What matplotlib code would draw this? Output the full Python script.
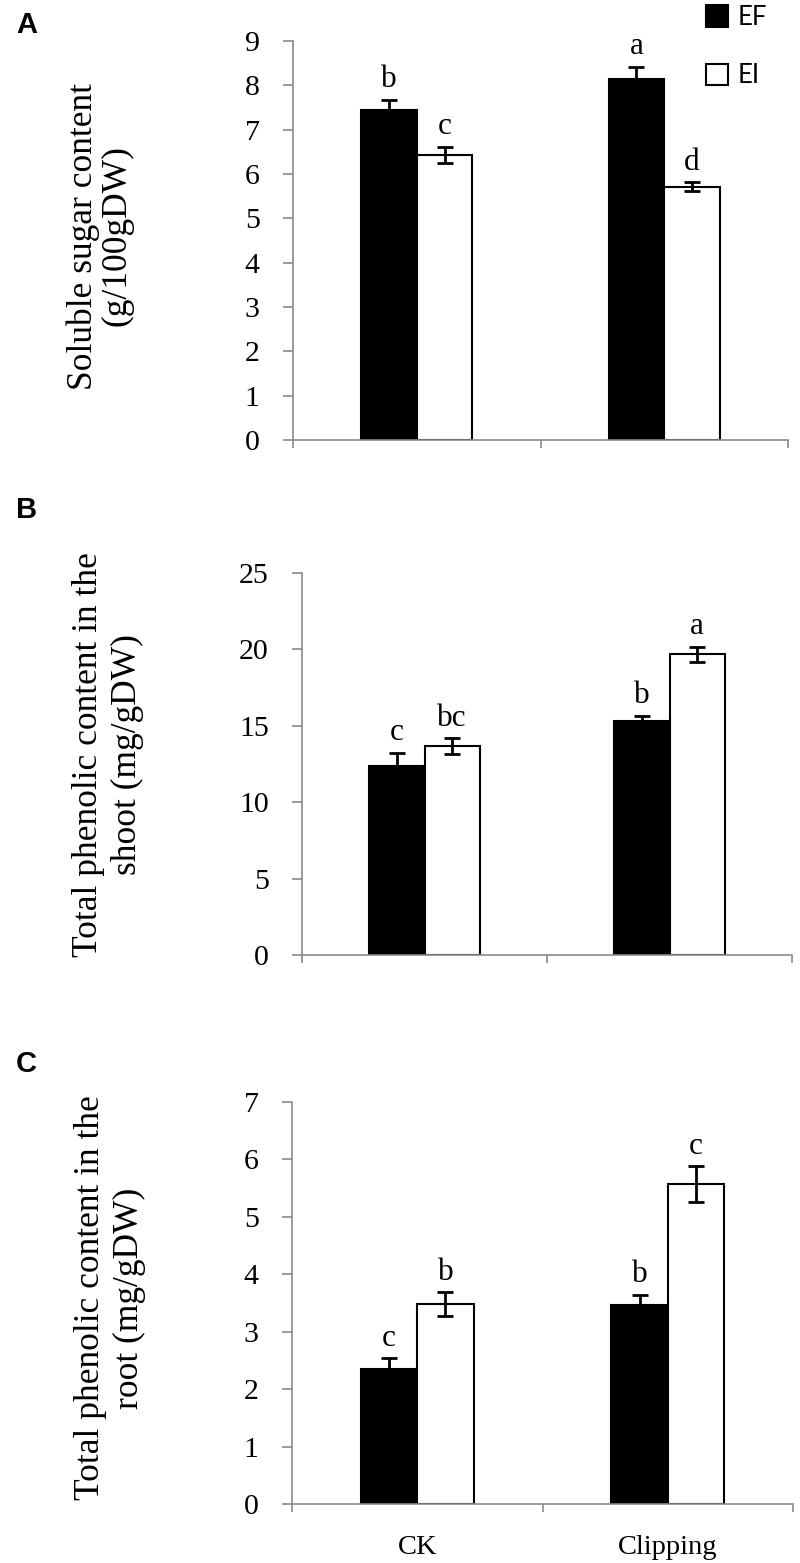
import matplotlib.pyplot as plt
from matplotlib.ticker import FixedLocator, NullFormatter, FixedFormatter

# ─── DATA ─────────────────────────────────────────
groups = ['CK', 'Clipping']
series = ['EF', 'EI']

sugar_ef = [7.44, 8.14]
sugar_ef_err = [0.23, 0.28]
sugar_ei = [6.43, 5.71]
sugar_ei_err = [0.18, 0.10]
sugar_ef_sig = ['b', 'a']
sugar_ei_sig = ['c', 'd']

shoot_ef = [12.37, 15.33]
shoot_ef_err = [0.85, 0.33]
shoot_ei = [13.68, 19.68]
shoot_ei_err = [0.52, 0.50]
shoot_ef_sig = ['c', 'b']
shoot_ei_sig = ['bc', 'a']

root_ef = [2.35, 3.47]
root_ef_err = [0.19, 0.17]
root_ei = [3.48, 5.57]
root_ei_err = [0.21, 0.31]
root_ef_sig = ['c', 'b']
root_ei_sig = ['b', 'c']

# ─── STYLE ─────────────────────────────────────────
W, H = 800, 1563
SERIF = 'Liberation Serif'
AXIS_GREY = '#8a8a8a'
BAR_W = 0.225

fig = plt.figure(figsize=(W / 100, H / 100), dpi=100, facecolor='white')


def px_rect(left, right, top, bottom):
    return [left / W, 1 - bottom / H, (right - left) / W, (bottom - top) / H]


def draw_panel(ax, ef, ef_err, ei, ei_err, ef_sig, ei_sig, ymax, ystep, show_x):
    x = list(range(len(groups)))
    x_ef = [i - BAR_W / 2 for i in x]
    x_ei = [i + BAR_W / 2 for i in x]

    err_kw = dict(ecolor='black', elinewidth=2, capsize=5.5, capthick=2)
    b1 = ax.bar(x_ef, ef, BAR_W, color='black', edgecolor='black',
                linewidth=1.5, yerr=ef_err, error_kw=err_kw, label=series[0])
    b2 = ax.bar(x_ei, ei, BAR_W, color='white', edgecolor='black',
                linewidth=1.5, yerr=ei_err, error_kw=err_kw, label=series[1])

    # significance letters
    for xs, vals, errs, sigs in [(x_ef, ef, ef_err, ef_sig), (x_ei, ei, ei_err, ei_sig)]:
        for xi, v, e, s in zip(xs, vals, errs, sigs):
            ax.annotate(s, (xi, v + e), xytext=(0, 9), textcoords='offset points',
                        ha='center', va='baseline', fontsize=22.5, family=SERIF,
                        annotation_clip=False)

    ax.set_xlim(-0.5, len(groups) - 0.5)
    ax.set_ylim(0, ymax)

    for side in ['top', 'right']:
        ax.spines[side].set_visible(False)
    for side in ['left', 'bottom']:
        ax.spines[side].set_color(AXIS_GREY)
        ax.spines[side].set_linewidth(1.2)

    ax.set_yticks([ystep * k for k in range(int(round(ymax / ystep)) + 1)])
    ax.tick_params(axis='y', direction='out', length=7, width=1.2, color=AXIS_GREY,
                   pad=17, labelsize=21.5, labelcolor='black')
    for lab in ax.get_yticklabels():
        lab.set_family(SERIF)

    ax.xaxis.set_major_locator(FixedLocator([-0.5, 0.5, 1.5]))
    ax.xaxis.set_major_formatter(NullFormatter())
    ax.tick_params(axis='x', which='major', direction='out', length=6, width=1.2,
                   color=AXIS_GREY)
    if show_x:
        ax.xaxis.set_minor_locator(FixedLocator(x))
        ax.xaxis.set_minor_formatter(FixedFormatter(groups))
        ax.tick_params(axis='x', which='minor', length=0, pad=22, labelsize=20.5)
        for lab in ax.get_xticklabels(minor=True):
            lab.set_family(SERIF)
    return b1, b2


# ─── PANELS ─────────────────────────────────────────
ax1 = fig.add_axes(px_rect(293, 788, 41, 440))
ax2 = fig.add_axes(px_rect(302, 792, 573, 955))
ax3 = fig.add_axes(px_rect(292, 793, 1102, 1504))

h1, h2 = draw_panel(ax1, sugar_ef, sugar_ef_err, sugar_ei, sugar_ei_err,
                    sugar_ef_sig, sugar_ei_sig, 9, 1, False)
draw_panel(ax2, shoot_ef, shoot_ef_err, shoot_ei, shoot_ei_err,
           shoot_ef_sig, shoot_ei_sig, 25, 5, False)
draw_panel(ax3, root_ef, root_ef_err, root_ei, root_ei_err,
           root_ef_sig, root_ei_sig, 7, 1, True)

# y-axis titles
fig.text(100 / W, 1 - 236 / H, 'Soluble sugar content\n(g/100gDW)', rotation=90,
         ha='center', va='center', multialignment='center', fontsize=25.5,
         family=SERIF, linespacing=1.05)
fig.text(108 / W, 1 - 755 / H, 'Total phenolic content in the\nshoot (mg/gDW)', rotation=90,
         ha='center', va='center', multialignment='center', fontsize=25.5,
         family=SERIF, linespacing=1.2)
fig.text(110 / W, 1 - 1298 / H, 'Total phenolic content in the\nroot (mg/gDW)', rotation=90,
         ha='center', va='center', multialignment='center', fontsize=25.5,
         family=SERIF, linespacing=1.2)

# panel letters
for lab, yc in [('A', 25), ('B', 510), ('C', 1064)]:
    fig.text(16 / W, 1 - yc / H, lab, ha='left', va='center', fontsize=21,
             fontweight='bold', family='Liberation Sans')

# legend
ax1.legend(handles=[h1, h2], loc='upper left', bbox_to_anchor=(706 / W, 1 - 5 / H),
           bbox_transform=fig.transFigure, frameon=False,
           prop={'family': 'Lato', 'size': 18.5}, handlelength=0.85, handleheight=0.9,
           handletextpad=0.4, labelspacing=1.3, borderpad=0, borderaxespad=0)

plt.savefig('out.png', dpi=100, facecolor='white')
plt.close()
